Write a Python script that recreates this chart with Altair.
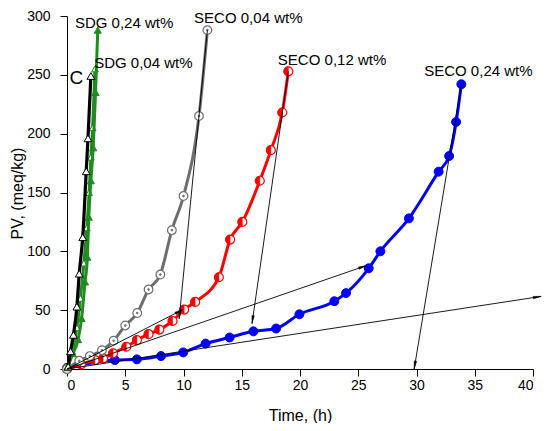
import math
import altair as alt
import pandas as pd

# ---- data ----
c_x = [0.1, 0.3, 0.55, 0.85, 1.05, 1.35, 1.65, 1.8, 2.05]
c_y = [2, 15, 29, 53, 81, 112, 168, 196, 249]

sdg24_x = [0.05, 0.5, 0.95, 1.25, 1.55, 1.75, 1.87, 2.05, 2.25, 2.45, 2.64]
sdg24_y = [2, 13, 25, 43, 74, 95, 129, 160, 188, 235, 288]

sdg04_x = [0.05, 0.45, 0.85, 1.15, 1.45, 1.7, 1.9, 2.05, 2.2, 2.4]
sdg04_y = [1, 15, 35, 60, 90, 120, 150, 180, 205, 255]

seco04_x = [0, 1.05, 1.96, 3.0, 4.0, 5.0, 6.03, 7.0, 8.01, 9.0, 10.0, 11.33, 12.05]
seco04_y = [0, 7, 11, 16, 24, 37, 47.6, 67.6, 80.3, 118, 147, 215, 288]

seco12_x = [0, 1.2, 2.4, 3.1, 3.95, 5.09, 6.0, 7.0, 7.93, 9.06, 10.06, 11.0, 13.04, 14.0, 15.05, 16.55, 17.5, 18.48, 19.0]
seco12_y = [0, 4, 7.6, 9, 13.3, 18.9, 24.5, 29.6, 33.5, 40.8, 50.5, 57, 78, 110, 125, 160, 186, 218, 253]

seco24_x = [0, 4.1, 6.0, 8.07, 9.97, 11.9, 13.96, 16.0, 17.95, 19.95, 22.95, 23.95, 25.9, 26.9, 29.35, 31.9, 32.8, 33.4, 33.85]
seco24_y = [1, 7.6, 8.2, 11, 14.1, 21.6, 26.8, 32, 34.4, 46.5, 57.6, 64.5, 85.6, 100, 128, 167.7, 181, 210, 242]

arrow_x1 = [12.05, 19.0, 33.85, 0, 0, 0]
arrow_y1 = [288, 253, 242, 0, 0, 0]
arrow_x2 = [9.63, 15.88, 29.8, 9.92, 25.7, 40.7]
arrow_y2 = [42.8, 38.6, 0, 50.4, 87.9, 61.7]

label_text = ["SDG 0,24 wt%", "SDG 0,04 wt%", "SECO 0,04 wt%", "SECO 0,12 wt%", "SECO 0,24 wt%"]
label_x = [0.68, 2.33, 10.91, 18.1, 30.66]
label_y = [294, 259.7, 298.5, 262.6, 253.3]

c_label_x = [0.8]
c_label_y = [247]

x_ticks = [i * 2.5 for i in range(17)]
y_ticks = [i * 25 for i in range(13)]

# ---- chart ----
W, H = 466, 353
XMAX, YMAX = 40, 300
FONT = "Liberation Sans"

xs = alt.Scale(domain=[0, XMAX], nice=False, zero=False)
ys = alt.Scale(domain=[0, YMAX], nice=False, zero=False)

xaxis = alt.Axis(
    values=x_ticks,
    labelExpr="datum.value % 5 === 0 ? datum.label : ''",
    tickSize={"condition": {"test": "datum.value % 5 === 0", "value": 7}, "value": 4},
    grid=False, domainColor="black", tickColor="black", labelColor="black",
    labelFont=FONT, labelFontSize=14, labelPadding=2,
    title="Time, (h)", titleFont=FONT, titleFontSize=16, titleFontWeight="normal",
    titleColor="black", titleBaseline="alphabetic", titleY=51,
)
yaxis = alt.Axis(
    values=y_ticks,
    labelExpr="datum.value % 50 === 0 ? datum.label : ''",
    tickSize={"condition": {"test": "datum.value % 50 === 0", "value": 7}, "value": 4},
    grid=False, domainColor="black", tickColor="black", labelColor="black",
    labelFont=FONT, labelFontSize=14, labelPadding=10,
    title="PV, (meq/kg)", titleFont=FONT, titleFontSize=16, titleFontWeight="normal",
    titleColor="black", titleX=-50, titleY=177, titleAlign="center", titleBaseline="middle",
)


def df(xv, yv):
    return pd.DataFrame({"x": xv, "y": yv})


def enc(ch, first=False):
    if first:
        return ch.encode(x=alt.X("x:Q", scale=xs, axis=xaxis), y=alt.Y("y:Q", scale=ys, axis=yaxis))
    return ch.encode(x=alt.X("x:Q", scale=xs), y=alt.Y("y:Q", scale=ys))


def line(xv, yv, color, width=3, first=False):
    return enc(alt.Chart(df(xv, yv)).mark_line(interpolate="monotone", color=color,
                                               strokeWidth=width), first)


def pts(xv, yv, shape, fill, stroke, size, sw=1.0):
    return enc(alt.Chart(df(xv, yv)).mark_point(shape=shape, fill=fill, stroke=stroke, size=size,
                                                filled=True, strokeWidth=sw, opacity=1))


GREEN = "#1e8c1e"
GRAY = "#6e6e6e"
RED = "#ff0000"
BLUE = "#0000ff"

layers = [
    line(seco24_x, seco24_y, BLUE, first=True),
    pts(seco24_x, seco24_y, "circle", BLUE, BLUE, 80),
    line(seco12_x, seco12_y, RED),
    pts(seco12_x, seco12_y, "circle", "white", RED, 80, 1.2),
    pts(seco12_x, seco12_y, "M0,-1 A1,1 0 0,0 0,1 Z", RED, RED, 80, 0.5),
    line(seco04_x, seco04_y, GRAY),
    pts(seco04_x, seco04_y, "circle", "white", GRAY, 75, 1.2),
    pts(seco04_x, seco04_y, "circle", GRAY, GRAY, 3),
    line(sdg04_x, sdg04_y, GREEN),
    pts(sdg04_x, sdg04_y, "triangle-up", "white", GREEN, 45, 1.0),
    line(sdg24_x, sdg24_y, GREEN),
    pts(sdg24_x, sdg24_y, "triangle-up", GREEN, GREEN, 50),
    line(c_x, c_y, "black", 3.2),
    pts(c_x, c_y, "triangle-up", "white", "black", 60, 1.0),
]

# arrows
px_x = W / XMAX
px_y = H / YMAX
angles = []
for x1, y1, x2, y2 in zip(arrow_x1, arrow_y1, arrow_x2, arrow_y2):
    dx = (x2 - x1) * px_x
    dy = -(y2 - y1) * px_y
    angles.append(math.degrees(math.atan2(dx, -dy)) % 360)
arr = pd.DataFrame({"x1": arrow_x1, "y1": arrow_y1, "x2": arrow_x2, "y2": arrow_y2, "ang": angles})

rules = alt.Chart(arr).mark_rule(color="black", strokeWidth=0.9, clip=False).encode(
    x=alt.X("x1:Q", scale=xs), y=alt.Y("y1:Q", scale=ys), x2="x2:Q", y2="y2:Q")
heads = alt.Chart(arr).mark_point(shape="M0,0 L-0.3,2 L0.3,2 Z", filled=True, fill="black",
                                  stroke="black", strokeWidth=0.5, size=64, opacity=1,
                                  clip=False).encode(
    x=alt.X("x2:Q", scale=xs), y=alt.Y("y2:Q", scale=ys), angle=alt.Angle("ang:Q", scale=None))

labels = alt.Chart(pd.DataFrame({"x": label_x, "y": label_y, "t": label_text})).mark_text(
    align="left", baseline="middle", font=FONT, fontSize=15, color="black").encode(
    x=alt.X("x:Q", scale=xs), y=alt.Y("y:Q", scale=ys), text="t:N")

clab = alt.Chart(pd.DataFrame({"x": c_label_x, "y": c_label_y, "t": ["C"]})).mark_text(
    align="center", baseline="middle", font=FONT, fontSize=19, color="black").encode(
    x=alt.X("x:Q", scale=xs), y=alt.Y("y:Q", scale=ys), text="t:N")

chart = alt.layer(*layers, rules, heads, labels, clab).properties(
    width=W, height=H,
    autosize=alt.AutoSizeParams(type="none"),
    padding={"left": 59, "top": 8, "right": 9, "bottom": 54},
    background="white",
).configure_view(stroke=None)

chart.save("out.html", embed_options={"renderer": "svg", "actions": False})
